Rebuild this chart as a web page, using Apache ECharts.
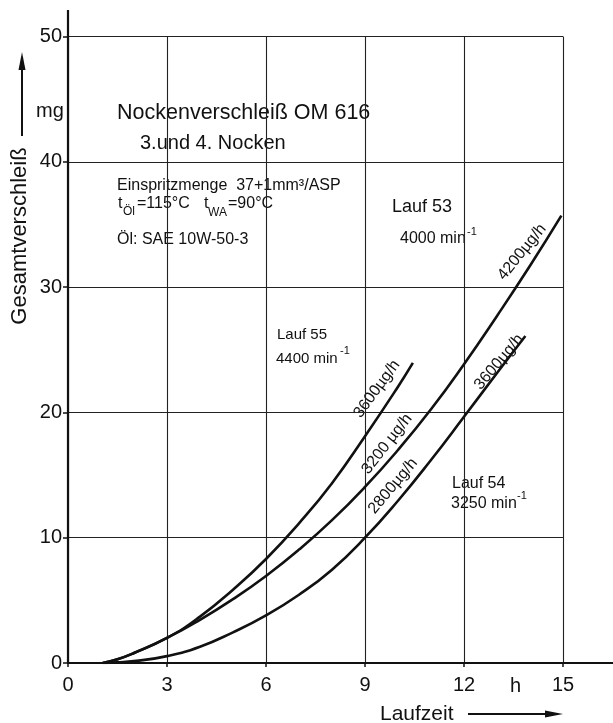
<!DOCTYPE html>
<html>
<head>
<meta charset="utf-8">
<script src="https://cdn.jsdelivr.net/npm/echarts@6/dist/echarts.min.js"></script>
<style>
  html, body { margin: 0; padding: 0; background: #fff; }
  #chart { width: 613px; height: 723px; }
</style>
</head>
<body>
<div id="chart"></div>
<script>
// Runtime in hours
const lauf55X = [1.05, 1.5, 2, 3, 4, 5, 6, 7, 8, 9, 10, 10.45];
const lauf53X = [1.05, 1.5, 2, 3, 4, 5, 6, 7, 8, 9, 10, 11, 12, 13, 14, 14.95];
const lauf54X = [1.1, 1.5, 2, 3, 4, 5, 6, 7, 8, 9, 10, 11, 12, 13, 13.86];

// Total cam wear in mg
const lauf55Y = [0, 0.3, 0.8, 2.0, 3.7, 5.85, 8.3, 11.15, 14.35, 18.1, 22.05, 23.95];
const lauf53Y = [0, 0.3, 0.8, 2.0, 3.45, 5.1, 6.95, 9.05, 11.4, 14.05, 17.0, 20.25, 23.85, 27.7, 31.7, 35.7];
const lauf54Y = [0, 0.05, 0.15, 0.55, 1.3, 2.45, 3.8, 5.45, 7.45, 10.0, 12.95, 16.2, 19.65, 23.15, 26.1];

const xTicks = [0, 3, 6, 9, 12, 15];
const yTicks = [0, 10, 20, 30, 40, 50];

const FONT = '"Liberation Sans", Arial, sans-serif';
const INK = '#111';

function pairs(xs, ys) { return xs.map((x, i) => [x, ys[i]]); }

function txt(text, x, y, size, extra) {
  return Object.assign({
    type: 'text', x: x, y: y, silent: true,
    style: Object.assign({
      text: text, fill: INK, font: size + 'px ' + FONT,
      textAlign: 'left', textVerticalAlign: 'middle'
    }, (extra && extra.style) || {})
  }, extra ? { rotation: extra.rotation || 0 } : {});
}

function rateLabel(text, cx, cy, deg) {
  return {
    type: 'text', x: cx, y: cy, rotation: deg * Math.PI / 180, silent: true,
    style: { text: text, fill: INK, font: '16px ' + FONT,
             textAlign: 'center', textVerticalAlign: 'middle' }
  };
}

const chart = echarts.init(document.getElementById('chart'), null, { renderer: 'canvas' });

const curveStyle = { color: INK, width: 2.6 };

chart.setOption({
  animation: false,
  backgroundColor: '#fff',
  grid: { left: 68, right: 50, top: 36.5, bottom: 60 },
  xAxis: {
    type: 'value', min: xTicks[0], max: xTicks[xTicks.length - 1], interval: 3,
    axisLine: { lineStyle: { color: INK, width: 2.2 } },
    axisTick: { show: true, length: 4, lineStyle: { color: INK, width: 1.5 } },
    axisLabel: { color: INK, fontSize: 20, fontFamily: FONT, margin: 12 },
    splitLine: { show: true, lineStyle: { color: '#222', width: 1.1 } }
  },
  yAxis: {
    type: 'value', min: yTicks[0], max: yTicks[yTicks.length - 1], interval: 10,
    axisLine: { show: true, lineStyle: { color: INK, width: 2.2 } },
    axisTick: { show: true, length: 5, lineStyle: { color: INK, width: 1.5 } },
    axisLabel: { color: INK, fontSize: 20, fontFamily: FONT, margin: 6 },
    splitLine: { show: true, lineStyle: { color: '#222', width: 1.1 } }
  },
  series: [
    { name: 'Lauf 55', type: 'line', data: pairs(lauf55X, lauf55Y), smooth: 0.5,
      showSymbol: false, symbol: 'none', lineStyle: curveStyle },
    { name: 'Lauf 53', type: 'line', data: pairs(lauf53X, lauf53Y), smooth: 0.5,
      showSymbol: false, symbol: 'none', lineStyle: curveStyle },
    { name: 'Lauf 54', type: 'line', data: pairs(lauf54X, lauf54Y), smooth: 0.5,
      showSymbol: false, symbol: 'none', lineStyle: curveStyle }
  ],
  graphic: [
    // axis extensions beyond the scale
    { type: 'line', silent: true, shape: { x1: 68, y1: 37, x2: 68, y2: 10 },
      style: { stroke: INK, lineWidth: 2.2 } },
    { type: 'line', silent: true, shape: { x1: 563, y1: 663, x2: 613, y2: 663 },
      style: { stroke: INK, lineWidth: 2.2 } },

    // y axis title with arrow
    txt('Gesamtverschleiß', 20, 236, 22, { rotation: Math.PI / 2,
      style: { textAlign: 'center' } }),
    { type: 'line', silent: true, shape: { x1: 22, y1: 136, x2: 22, y2: 66 },
      style: { stroke: INK, lineWidth: 2 } },
    { type: 'polygon', silent: true, shape: { points: [[22, 52], [18.5, 70], [25.5, 70]] },
      style: { fill: INK } },
    txt('mg', 36, 111, 20),

    // x axis title with arrow
    txt('Laufzeit', 380, 714, 21),
    { type: 'line', silent: true, shape: { x1: 468, y1: 714, x2: 548, y2: 714 },
      style: { stroke: INK, lineWidth: 2 } },
    { type: 'polygon', silent: true, shape: { points: [[563, 714], [545, 710.5], [545, 717.5]] },
      style: { fill: INK } },
    txt('h', 510, 686, 20),

    // heading block
    txt('Nockenverschleiß OM 616', 117, 113, 21.5),
    txt('3.und 4. Nocken', 140, 143, 20),
    txt('Einspritzmenge  37+1mm³/ASP', 117, 186, 16),
    txt('t', 118, 204, 16),
    txt('Öl', 123, 212, 12),
    txt('=115°C', 137, 204, 16),
    txt('t', 204, 204, 16),
    txt('WA', 208, 213, 12),
    txt('=90°C', 228, 204, 16),
    txt('Öl: SAE 10W-50-3', 117, 240, 16),

    // run annotations
    txt('Lauf 53', 392, 207, 18),
    txt('4000 min', 400, 239, 16),
    txt('-1', 467, 232, 11),
    txt('Lauf 55', 277, 335, 15),
    txt('4400 min', 276, 359, 15),
    txt('-1', 340, 351, 11),
    txt('Lauf 54', 452, 484, 16),
    txt('3250 min', 451, 504, 16),
    txt('-1', 517, 496, 11),

    // wear-rate labels along the curves
    rateLabel('3600µg/h', 377, 389, 54),
    rateLabel('3200 µg/h', 387, 444, 52),
    rateLabel('2800µg/h', 393, 486, 50),
    rateLabel('4200µg/h', 522, 252, 51),
    rateLabel('3600µg/h', 499, 362, 50)
  ]
});
</script>
</body>
</html>
